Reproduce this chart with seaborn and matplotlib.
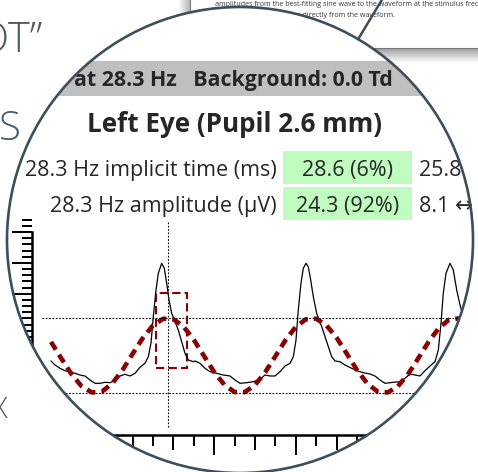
import numpy as np
import pandas as pd
import matplotlib.pyplot as plt
import seaborn as sns
from matplotlib.patches import Circle, Rectangle
from matplotlib.ticker import MultipleLocator

sns.set_style('white')
plt.rcParams['font.family'] = ['Open Sans', 'DejaVu Sans']

# flicker ERG trace (time in ms, amplitude in uV)
t_wave = [0.0, 0.98, 2.21, 3.43, 4.66, 5.88, 7.11, 8.33, 9.56, 10.78, 12.01, 13.24, 14.46,
          15.69, 16.91, 18.14, 19.36, 20.59, 21.81, 23.04, 23.85, 24.51, 25.07, 25.74, 26.30,
          27.13, 27.77, 28.36, 28.92, 29.58, 30.39, 31.20, 32.03, 32.84, 33.65, 34.88,
          35.29, 36.52, 37.75, 38.97, 40.61, 42.23, 43.87, 45.10, 46.32, 47.97, 49.58, 51.23,
          52.45, 53.68, 54.90, 56.13, 57.35, 58.58, 59.39, 60.05, 60.61, 61.27, 61.84, 62.50,
          63.06, 63.65, 64.29, 65.12, 66.35, 67.57, 68.80, 69.61,
          70.83, 72.06, 73.70, 74.93, 76.54, 78.19, 79.41, 80.64, 81.86, 83.90, 85.54, 86.76,
          87.99, 89.22, 90.44, 91.67, 92.89, 94.12, 94.93, 95.59, 96.15, 96.81, 97.79, 98.60,
          99.44, 100.25, 101.05, 101.96, 102.94, 103.92, 105.15]
v_wave = [-1.78, -3.08, -4.15, -4.93, -5.25, -5.77, -6.32, -6.64, -7.94, -9.01, -9.01, -8.68, -8.81,
          -8.17, -6.64, -6.09, -6.64, -5.77, -3.82, -2.53, -0.39, 4.05, 12.57, 21.22, 26.64,
          29.88, 28.26, 23.40, 17.98, 13.67, 10.95, 8.26, 4.47, 0.71, -1.46, -2.01,
          -1.78, -2.53, -4.15, -5.25, -5.77, -6.32, -6.64, -7.94, -9.01, -8.81, -8.49, -7.71,
          -6.32, -6.64, -6.64, -5.25, -3.40, -2.53, -0.39, 5.02, 14.74, 23.40, 28.26, 29.88,
          28.78, 24.47, 19.05, 13.67, 9.33, 4.47, -0.39, -1.78,
          -2.01, -3.08, -4.15, -4.93, -5.57, -6.00, -6.64, -7.94, -9.01, -8.68, -8.49, -7.39,
          -6.00, -6.32, -6.64, -4.93, -3.40, -2.01, 1.78, 10.43, 20.16, 26.64, 29.88, 27.71,
          21.22, 16.36, 12.57, 8.90, 4.40, 0.20, -1.80]

# best-fitting sine, sampled every 2.5 ms
t_sine = [0, 2.5, 5, 7.5, 10, 12.5, 15, 17.5, 20, 22.5, 25, 27.5, 30, 32.5, 35, 37.5, 40, 42.5,
          45, 47.5, 50, 52.5, 55, 57.5, 60, 62.5, 65, 67.5, 70, 72.5, 75, 77.5, 80, 82.5, 85,
          87.5, 90, 92.5, 95, 97.5, 100, 102.5, 105]
v_sine = [4.42, -0.88, -6.00, -9.96, -11.98, -11.68, -9.10, -4.77, 0.51, 5.68, 9.74, 11.92,
          11.77, 9.35, 5.09, -0.15, -5.35, -9.51, -11.84, -11.86, -9.57, -5.42, -0.23, 5.02,
          9.29, 11.75, 11.93, 9.79, 5.76, 0.59, -4.69, -9.04, -11.66, -11.99, -10.02, -6.08,
          -0.95, 4.33, 8.80, 11.55, 12.05, 10.22, 6.39]

implicit_time = 28.6
sine_half = 12.15
box_t = (25.7, 33.3)
box_v = (-4.05, 20.25)

header = "at 28.3 Hz   Background: 0.0 Td"
title = "Left Eye (Pupil 2.6 mm)"
row_labels = ["28.3 Hz implicit time (ms)", "28.3 Hz amplitude (\u00b5V)"]
row_values = ["28.6 (6%)", "24.3 (92%)"]
row_ranges = ["25.8", "8.1 \u2194"]
page_lines = ["amplitudes from the best-fitting sine wave to the waveform at the stimulus frequency",
              "implicit times and amplitudes directly from the waveform."]

W, H = 478, 472
edge = '#3d4f5b'
red = '#8b0000'

fig = plt.figure(figsize=(W / 100, H / 100), dpi=100)
bg = fig.add_axes([0, 0, 1, 1])
bg.set_xlim(0, W)
bg.set_ylim(H, 0)
bg.axis('off')

# page in the background (top right) with soft shadow
shade_b = np.linspace(0.62, 1.0, 20).reshape(-1, 1)
bg.imshow(shade_b, extent=(184, W, 63, 48), cmap='gray', vmin=0, vmax=1, aspect='auto', zorder=0)
shade_l = np.linspace(1.0, 0.72, 12).reshape(1, -1)
bg.imshow(shade_l, extent=(178, 190, 48, -2), cmap='gray', vmin=0, vmax=1, aspect='auto', zorder=0)
bg.add_patch(Rectangle((190, -10), 300, 58, fc='white', ec='#7a7a7a', lw=0.8, zorder=1))
for i, line in enumerate(page_lines):
    bg.text(215 if i == 0 else 395, 6 + 11 * i, line, fontsize=5.1, color='#333333',
            ha='left' if i == 0 else 'right', va='baseline', zorder=1)
bg.plot([357, 383], [41, -2], color=edge, lw=1.8, zorder=1)

# slide text on the left
bg.text(43, 52, "DOT\u201d", fontsize=30, fontweight='light', color='#4a5a66', ha='right', va='baseline')
bg.text(-1, 140, "S", fontsize=29, fontweight='light', color='#4a5a66', ha='left', va='baseline')
bg.text(0, 418, "X", fontsize=21, fontweight='light', color='#4a5a66', ha='center', va='baseline')

# magnifier lens
cx, cy, r = 240, 240, 233
bg.add_patch(Circle((cx, cy), r, fc='white', ec='none', zorder=2))
circ = Circle((cx, cy), r, transform=bg.transData)


def clip(a):
    a.set_clip_path(circ)
    a.set_clip_on(True)


clip(bg.add_patch(Rectangle((0, 61), 425, 35, fc='#bfbfbf', ec='none', zorder=3)))
bg.text(393, 86, header, fontsize=15.4, fontweight='bold', ha='right', va='baseline', zorder=4)
bg.text(234.5, 132, title, fontsize=18.7, fontweight='bold', ha='center', va='baseline', zorder=4)

for i in range(2):
    y0 = 151 + 36 * i
    bg.add_patch(Rectangle((283, y0), 129, 33, fc='#c0fcbf', ec='none', zorder=3))
    base = y0 + 25
    bg.text(277, base, row_labels[i], fontsize=15.5, ha='right', va='baseline', zorder=4)
    bg.text(347.5, base, row_values[i], fontsize=15.5, ha='center', va='baseline', zorder=4)
    bg.text(419, base, row_ranges[i], fontsize=15.5, ha='left', va='baseline', zorder=4)

# waveform axes: 4.08 px per ms (t=0 at x=51), 3.086 px per uV (0 at y=355.5)
t_lo, t_hi = -4.66, 105.5
v_lo, v_hi = -25.76, 44.0
x0, x1 = 51 + 4.08 * t_lo, 51 + 4.08 * t_hi
y0, y1 = 355.5 - 3.086 * v_lo, 355.5 - 3.086 * v_hi
rect = [x0 / W, 1 - y0 / H, (x1 - x0) / W, (y0 - y1) / H]

wax = fig.add_axes(rect)
wax.set_zorder(2)
wax.patch.set_visible(False)

sns.lineplot(x=t_wave, y=v_wave, ax=wax, color='black', linewidth=0.9, sort=False, estimator=None)
sns.lineplot(x=t_sine, y=v_sine, ax=wax, color=red, linewidth=3.3, linestyle=(0, (2, 1.3)),
             sort=False, estimator=None)
wax.hlines([sine_half, -sine_half], -2.2, 112, colors='black', lw=0.8, linestyles=[(0, (1.5, 1.5))])
wax.vlines(implicit_time, -23.2, 43.3, colors='black', lw=0.8, linestyles=[(0, (1.5, 1.5))])
wax.add_patch(Rectangle((box_t[0], box_v[0]), box_t[1] - box_t[0], box_v[1] - box_v[0],
                        fill=False, ec=red, lw=1.5, ls=(0, (4, 2))))

wax.set_xlim(t_lo, t_hi)
wax.set_ylim(v_lo, v_hi)
for s in ['top', 'right']:
    wax.spines[s].set_visible(False)
for s in ['left', 'bottom']:
    wax.spines[s].set_linewidth(1.8)
    wax.spines[s].set_color('black')
    clip(wax.spines[s])
wax.spines['left'].set_bounds(v_lo, 40)
wax.xaxis.set_major_locator(MultipleLocator(20))
wax.xaxis.set_minor_locator(MultipleLocator(5))
wax.yaxis.set_major_locator(MultipleLocator(10))
wax.yaxis.set_minor_locator(MultipleLocator(2))
wax.tick_params(axis='both', which='both', direction='out', width=1.4, color='black',
                labelbottom=False, labelleft=False, bottom=True, left=True)
wax.tick_params(axis='x', which='major', length=14.4)
wax.tick_params(axis='x', which='minor', length=7.9)
wax.tick_params(axis='y', which='major', length=14.4)
wax.tick_params(axis='y', which='minor', length=7.2)
wax.set_xlabel('')
wax.set_ylabel('')

# medium ticks every 10 ms on the time ruler
rax = fig.add_axes(rect)
rax.set_zorder(2)
rax.patch.set_visible(False)
rax.set_xlim(t_lo, t_hi)
rax.set_ylim(v_lo, v_hi)
for s in rax.spines.values():
    s.set_visible(False)
rax.set_yticks([])
rax.set_xticks([10, 30, 50, 70, 90])
rax.tick_params(axis='x', direction='out', length=10.8, width=1.4, color='black',
                labelbottom=False, bottom=True)

for a in wax.lines + wax.collections + wax.patches:
    clip(a)
for ax in (wax, rax):
    for axis in (ax.xaxis, ax.yaxis):
        nmaj = len(axis.get_majorticklocs())
        nmin = len(axis.get_minorticklocs())
        for tk in axis.get_major_ticks(nmaj) + axis.get_minor_ticks(nmin):
            clip(tk.tick1line)
            clip(tk.tick2line)

# lens rim on top
wax.add_patch(Circle((cx, cy), r, fill=False, ec=edge, lw=1.9, transform=bg.transData,
                     clip_on=False, zorder=10))

fig.savefig('out.png', dpi=100)
